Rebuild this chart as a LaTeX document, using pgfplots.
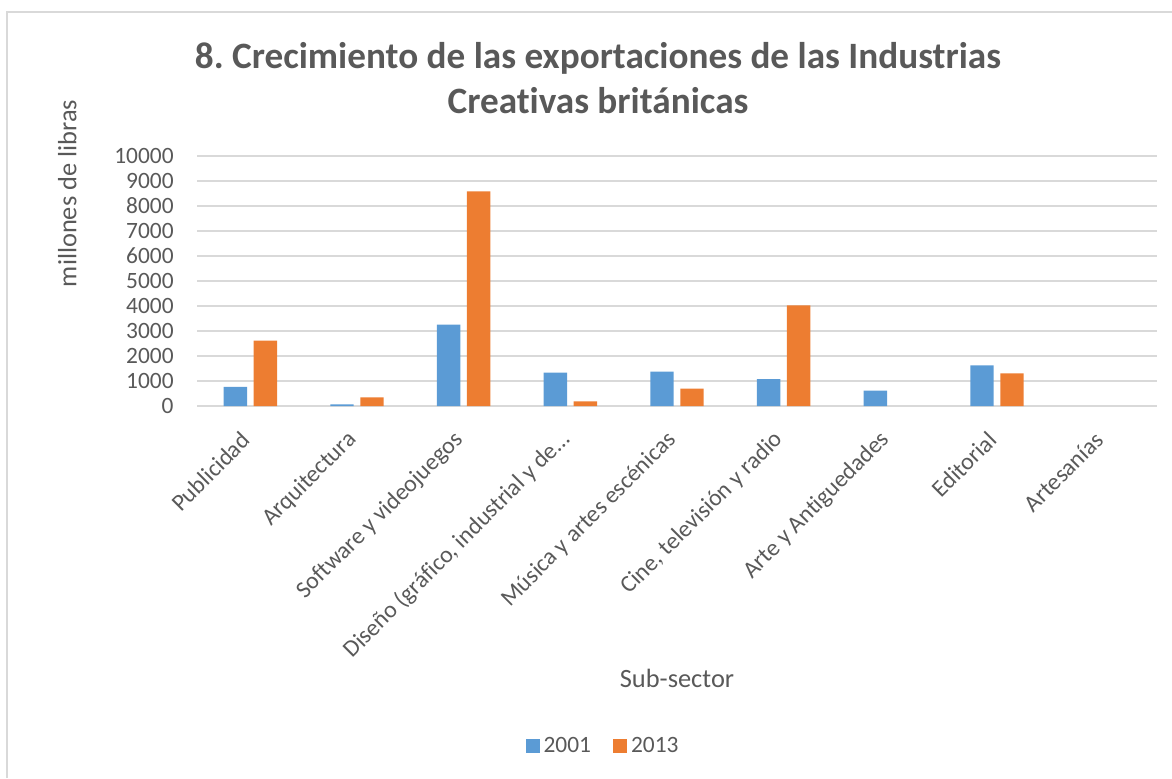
\documentclass[border=0pt]{standalone}
\usepackage{pgfplots}
\pgfplotsset{compat=1.18}
\usepackage{pgfplotstable}
\usepackage{fontspec}
\setmainfont{Carlito}[Ligatures=NoCommon]
\frenchspacing

\definecolor{serA}{HTML}{5B9BD5}
\definecolor{serB}{HTML}{ED7D31}
\definecolor{gridgray}{HTML}{D9D9D9}
\definecolor{textgray}{HTML}{595959}

% Exports of the UK creative industries by sub-sector (millions of pounds)
\pgfplotstableread{
idx v2001 v2013
0   770   2620
1   70    350
2   3260  8590
3   1340  190
4   1380  700
5   1080  4030
6   620   0
7   1630  1310
8   0     0
}\exports

\begin{document}
\begin{tikzpicture}
\useasboundingbox (0pt,0pt) rectangle (586pt,389pt);
% chart frame
\draw[gridgray, line width=1pt] (3.5pt,0pt) -- (3.5pt,383pt) -- (586pt,383pt);
\begin{axis}[
  at={(98.5pt,186pt)}, anchor=south west,
  scale only axis, width=480pt, height=125pt,
  ybar=3.3pt, bar width=11.7pt,
  xmin=-0.5, xmax=8.5, ymin=0, ymax=10000,
  restrict y to domain=1:20000,
  ytick={0,1000,...,10000},
  scaled y ticks=false,
  yticklabel style={/pgf/number format/1000 sep={}, anchor=east, inner sep=0pt, xshift=-11.5pt,
    font=\fontsize{11.7}{14}\selectfont, text=textgray},
  /pgf/number format/assume math mode=true,
  xtick={0,...,8},
  xticklabels={Publicidad, Arquitectura, Software y videojuegos,
    {Diseño (gráfico, industrial y de…}, Música y artes escénicas,
    {Cine, televisión y radio}, Arte y Antiguedades, Editorial, Artesanías},
  xticklabel style={yshift=-15pt, xshift=-2pt, rotate=45, anchor=east, inner sep=0pt,
    font=\fontsize{11.9}{14}\selectfont, text=textgray},
  major tick length=0pt,
  axis line style={draw=none},
  ymajorgrids,
  major grid style={gridgray, line width=0.75pt},
  title={8. Crecimiento de las exportaciones de las Industrias\\Creativas británicas},
  title style={at={(0.4177,1.262)}, anchor=center, align=center,
    font=\bfseries\fontsize{18.6}{22.5}\selectfont, text=textgray},
  ylabel={millones de libras},
  ylabel style={at={(-0.135,0.85)}, anchor=center,
    font=\fontsize{13.2}{15}\selectfont, text=textgray},
  xlabel={Sub-sector},
  xlabel style={at={(0.5,-1.088)}, anchor=center,
    font=\fontsize{13.2}{15}\selectfont, text=textgray},
  legend style={at={(0.424,-1.36)}, anchor=center, draw=none, fill=none,
    legend columns=2, font=\fontsize{11.7}{14}\selectfont, text=textgray,
    /tikz/every even column/.append style={column sep=9pt},
    legend cell align=left},
  legend image code/.code={\fill[#1] (0pt,-3.5pt) rectangle (7pt,3.5pt);},
]
\addplot[fill=serA, draw=none] table[x=idx, y=v2001] {\exports};
\addplot[fill=serB, draw=none] table[x=idx, y=v2013] {\exports};
\legend{2001, 2013}
\end{axis}
\end{tikzpicture}
\end{document}
